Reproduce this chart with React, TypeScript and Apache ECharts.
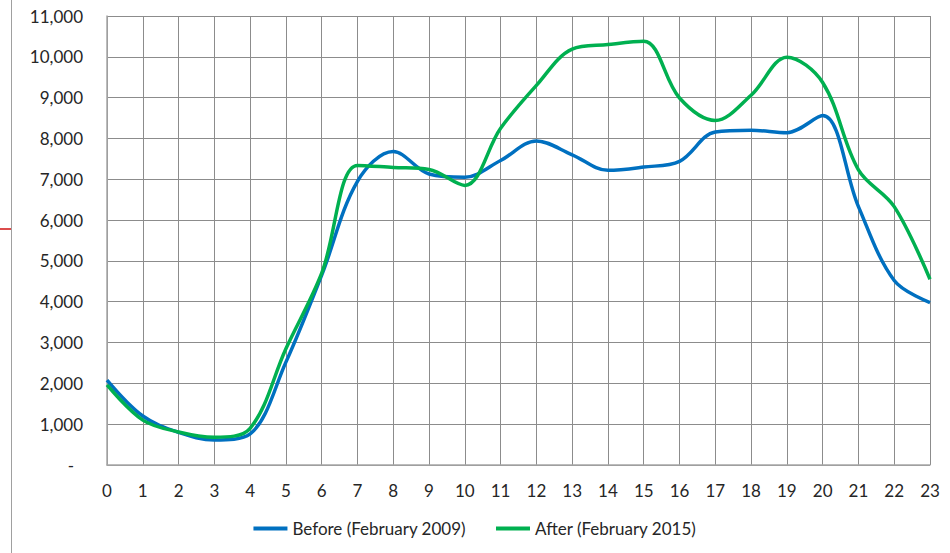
import React, { useEffect, useRef } from "react";
import * as echarts from "echarts";

// Hour of day
const hours: string[] = [
  "0", "1", "2", "3", "4", "5", "6", "7", "8", "9", "10", "11",
  "12", "13", "14", "15", "16", "17", "18", "19", "20", "21", "22", "23",
];

// Average hourly values, February 2009
const beforeValues: number[] = [
  2080, 1200, 800, 610, 760, 2520, 4650, 6950, 7680, 7130, 7050, 7460,
  7940, 7600, 7220, 7300, 7440, 8160, 8200, 8140, 8560, 6330, 4520, 3980,
];

// Average hourly values, February 2015
const afterValues: number[] = [
  1960, 1100, 810, 680, 900, 2850, 4700, 7340, 7290, 7240, 6850, 8250,
  9300, 10190, 10300, 10380, 8990, 8440, 9060, 9990, 9370, 7230, 6330, 4550,
];

const yTicks = { min: 0, max: 11000, interval: 1000 };

const FONT = "Lato, 'Open Sans', sans-serif";
const TEXT = "#262626";

export default function App() {
  const ref = useRef<HTMLDivElement | null>(null);

  useEffect(() => {
    if (!ref.current) return;
    const chart = echarts.init(ref.current, undefined, { renderer: "svg" });

    chart.setOption({
      animation: false,
      backgroundColor: "#ffffff",
      textStyle: { fontFamily: FONT },
      grid: { left: 107, right: 20, top: 16, bottom: 88, containLabel: false },
      legend: {
        bottom: 11,
        left: "center",
        icon: "rect",
        itemWidth: 34,
        itemHeight: 4,
        itemGap: 30,
        textStyle: { fontFamily: FONT, fontSize: 17, color: TEXT },
        data: ["Before (February 2009)", "After (February 2015)"],
      },
      xAxis: {
        type: "category",
        data: hours,
        boundaryGap: false,
        axisLine: { show: true, lineStyle: { color: "#a6a6a6", width: 1.5 } },
        axisTick: { show: false },
        axisLabel: { fontFamily: FONT, fontSize: 17, color: TEXT, margin: 17, interval: 0 },
        splitLine: { show: true, lineStyle: { color: "#8c8c8c", width: 1 } },
      },
      yAxis: {
        type: "value",
        min: yTicks.min,
        max: yTicks.max,
        interval: yTicks.interval,
        axisLine: { show: true, lineStyle: { color: "#a6a6a6", width: 1.5 } },
        axisTick: { show: false },
        axisLabel: {
          fontFamily: FONT,
          fontSize: 17,
          color: TEXT,
          margin: 24,
          formatter: (v: number) =>
            v === 0 ? "{d|-}" : v.toLocaleString("en-US"),
          rich: {
            d: { fontFamily: FONT, fontSize: 17, color: TEXT, padding: [0, 9, 0, 0] },
          },
        },
        splitLine: { show: true, lineStyle: { color: "#8c8c8c", width: 1 } },
      },
      series: [
        {
          name: "Before (February 2009)",
          type: "line",
          data: beforeValues,
          smooth: 0.35,
          showSymbol: false,
          lineStyle: { color: "#0070c0", width: 3.5 },
          itemStyle: { color: "#0070c0" },
        },
        {
          name: "After (February 2015)",
          type: "line",
          data: afterValues,
          smooth: 0.35,
          showSymbol: false,
          lineStyle: { color: "#00b050", width: 3.5 },
          itemStyle: { color: "#00b050" },
        },
      ],
      graphic: [
        {
          type: "line",
          shape: { x1: 11.5, y1: 0, x2: 11.5, y2: 553 },
          style: { stroke: "#a0a0a0", lineWidth: 1 },
        },
        {
          type: "line",
          shape: { x1: 0, y1: 229, x2: 11, y2: 229 },
          style: { stroke: "#d01010", lineWidth: 1.5 },
        },
      ],
    });

    return () => chart.dispose();
  }, []);

  return (
    <div
      ref={ref}
      style={{ position: "fixed", left: 0, top: 0, width: 950, height: 553 }}
    />
  );
}
